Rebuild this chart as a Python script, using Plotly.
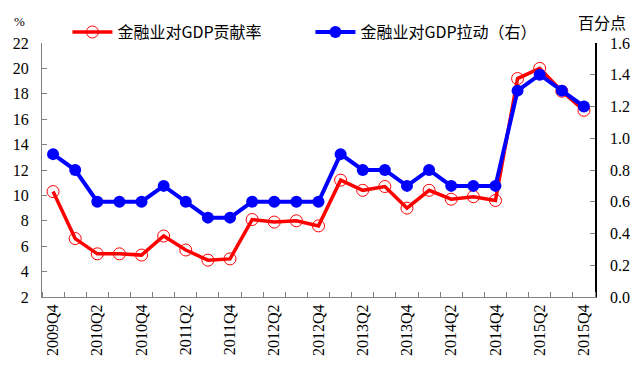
import plotly.graph_objects as go

categories = ["2009Q4","2010Q1","2010Q2","2010Q3","2010Q4","2011Q1","2011Q2","2011Q3","2011Q4",
              "2012Q1","2012Q2","2012Q3","2012Q4","2013Q1","2013Q2","2013Q3","2013Q4",
              "2014Q1","2014Q2","2014Q3","2014Q4","2015Q1","2015Q2","2015Q3","2015Q4"]
contribution = [10.3, 6.6, 5.4, 5.4, 5.3, 6.8, 5.7, 4.9, 5.0, 8.1, 7.9, 8.0, 7.6,
                11.2, 10.4, 10.7, 9.0, 10.4, 9.7, 9.9, 9.6, 19.2, 20.0, 18.2, 16.7]
pull = [0.9, 0.8, 0.6, 0.6, 0.6, 0.7, 0.6, 0.5, 0.5, 0.6, 0.6, 0.6, 0.6,
        0.9, 0.8, 0.8, 0.7, 0.8, 0.7, 0.7, 0.7, 1.3, 1.4, 1.3, 1.2]
name1 = "金融业对GDP贡献率"
name2 = "金融业对GDP拉动（右）"
left_ticks = list(range(2, 23, 2))
right_ticks = [0.0, 0.2, 0.4, 0.6, 0.8, 1.0, 1.2, 1.4, 1.6]

FONT = "Liberation Serif, serif"
CJK = "Noto Sans CJK SC"
x = list(range(len(categories)))

fig = go.Figure()
fig.add_trace(go.Scatter(x=x, y=contribution, name=name1, mode="lines+markers",
                         line=dict(color="#ff0000", width=3.5),
                         marker=dict(symbol="circle-open", size=12, color="#ff0000", line=dict(width=1))))
fig.add_trace(go.Scatter(x=x, y=pull, name=name2, mode="lines+markers", yaxis="y2",
                         line=dict(color="#0000ff", width=4),
                         marker=dict(symbol="circle", size=12, color="#0000ff")))

fig.update_layout(
    width=640, height=373,
    margin=dict(l=42, r=45, t=43, b=76),
    plot_bgcolor="white", paper_bgcolor="white",
    font=dict(family=FONT, size=16, color="#000000"),
    showlegend=True,
    legend=dict(orientation="h", x=0.046, y=1.043, xanchor="left", yanchor="middle",
                font=dict(size=16, family=CJK), entrywidth=188, entrywidthmode="pixels",
                bgcolor="rgba(0,0,0,0)", itemwidth=40),
    xaxis=dict(range=[-0.5, len(categories) - 0.5], automargin=False,
               tickvals=x[::2], ticktext=categories[::2], tickangle=-90,
               ticks="", showgrid=False, zeroline=False,
               showline=True, linecolor="#808080", linewidth=1,
               tickfont=dict(size=16, family=FONT),
               minor=dict(tickvals=[i - 0.5 for i in range(len(categories) + 1)],
                          ticks="inside", ticklen=5, tickcolor="#808080", showgrid=False)),
    yaxis=dict(range=[2, 22], tickvals=left_ticks, ticks="inside", ticklen=5, tickcolor="#808080",
               automargin=False, ticklabelstandoff=9,
               showgrid=False, zeroline=False, showline=True, linecolor="#808080", linewidth=1,
               tickfont=dict(size=16, family=FONT)),
    yaxis2=dict(range=[0, 1.6], tickvals=right_ticks, ticktext=[f"{v:.1f}" for v in right_ticks],
                overlaying="y", side="right", ticks="inside", ticklen=5, tickcolor="#808080",
                automargin=False, ticklabelstandoff=10,
                showgrid=False, zeroline=False, showline=True, linecolor="#000000", linewidth=1.5,
                tickfont=dict(size=16, family=FONT)),
    annotations=[
        dict(text="%", xref="paper", yref="paper", x=-0.04, y=1.083, xanchor="center", yanchor="middle",
             showarrow=False, font=dict(size=13, family=FONT)),
        dict(text="百分点", xref="paper", yref="paper", x=1.013, y=1.083, xanchor="center", yanchor="middle",
             showarrow=False, font=dict(size=16, family=CJK)),
    ],
)
fig.write_html("out.html", post_script="document.body.style.margin='0px';",
               config={"displayModeBar": False})
